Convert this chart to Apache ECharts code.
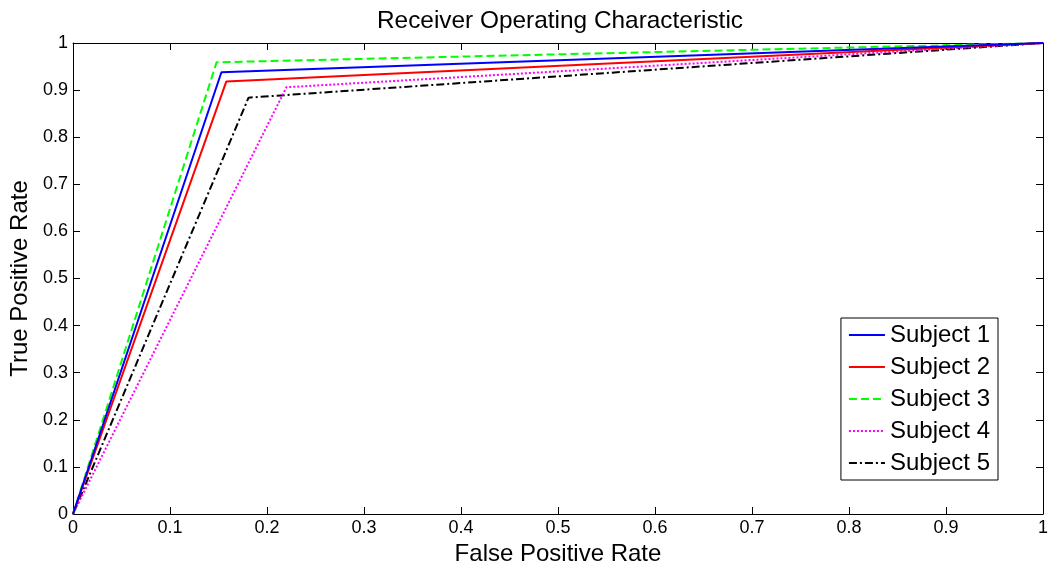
<!DOCTYPE html>
<html><head><meta charset="utf-8">
<script src="https://cdn.jsdelivr.net/npm/echarts@6/dist/echarts.min.js"></script>
<style>html,body{margin:0;padding:0;background:#fff}#c{width:1053px;height:563px}</style>
</head><body><div id="c"></div>
<script>
const seriesNames = ['Subject 1','Subject 2','Subject 3','Subject 4','Subject 5'];
const subject1 = [[0,0],[0.153,0.938],[1,1]];
const subject2 = [[0,0],[0.158,0.918],[1,1]];
const subject3 = [[0,0],[0.148,0.959],[1,1]];
const subject4 = [[0,0],[0.220,0.906],[1,1]];
const subject5 = [[0,0],[0.181,0.884],[1,1]];
const seriesData = [subject1,subject2,subject3,subject4,subject5];
const colors = ['#0000ff','#ff0000','#00ff00','#ff00ff','#000000'];
const dashes = ['solid','solid',[8,4],[2,2],[8,3,2,3]];

const font = 'Liberation Sans, Arial, sans-serif';
const chart = echarts.init(document.getElementById('c'));
const axisCommon = {
  min:0, max:1, interval:0.1,
  axisLine:{show:true,onZero:false,lineStyle:{color:'#000',width:1}},
  axisTick:{show:true,inside:true,length:7,lineStyle:{color:'#000'}},
  splitLine:{show:false}
};
chart.setOption({
  animation:false,
  backgroundColor:'#fff',
  title:{text:'Receiver Operating Characteristic',left:372,top:4,
    textStyle:{fontFamily:font,fontSize:24.4,fontWeight:'normal',color:'#000'}},
  grid:{left:73,right:10,top:43,bottom:49,containLabel:false,outerBoundsMode:'none'},
  legend:{
    orient:'vertical', right:55, top:318,
    data:seriesNames,
    backgroundColor:'#fff', borderColor:'#000', borderWidth:1, borderRadius:0,
    padding:[5,8,5,7], itemGap:8, itemWidth:36, itemHeight:14,
    itemStyle:{opacity:0},
    textStyle:{fontFamily:font,fontSize:24,color:'#000'}
  },
  xAxis:[
    Object.assign({type:'value',position:'bottom',name:'False Positive Rate',nameLocation:'middle',nameGap:25,
      nameTextStyle:{fontFamily:font,fontSize:24,color:'#000'},
      axisLabel:{fontFamily:font,fontSize:18,color:'#000',margin:5}},axisCommon),
    Object.assign({type:'value',position:'top',axisLabel:{show:false}},axisCommon)
  ],
  yAxis:[
    Object.assign({type:'value',position:'left',name:'True Positive Rate',nameLocation:'middle',nameGap:38,
      nameTextStyle:{fontFamily:font,fontSize:24,color:'#000'},
      axisLabel:{fontFamily:font,fontSize:18,color:'#000',margin:5}},axisCommon),
    Object.assign({type:'value',position:'right',axisLabel:{show:false}},axisCommon)
  ],
  series: seriesNames.map((n,i)=>({
    name:n, type:'line', data:seriesData[i], symbol:'none', showSymbol:false,
    color:colors[i],
    lineStyle:{color:colors[i],width:2,type:dashes[i]},
    z: 10-i
  }))
});
</script></body></html>
